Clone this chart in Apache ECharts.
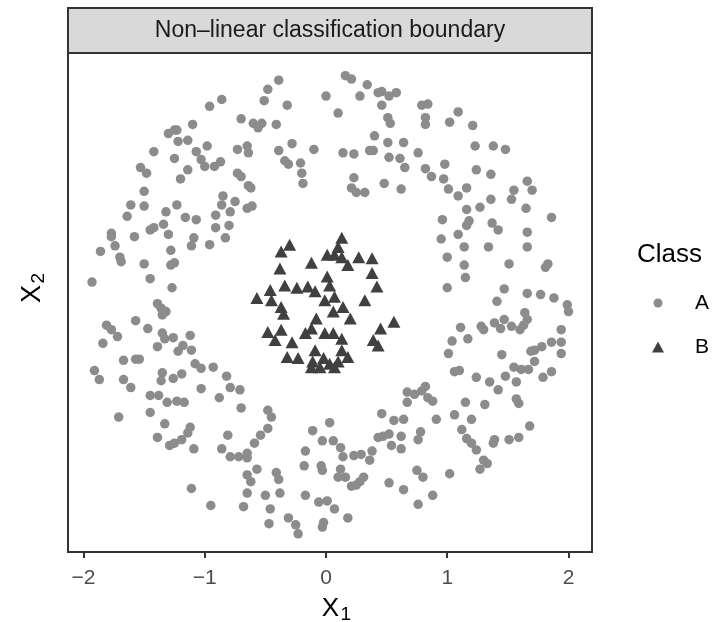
<!DOCTYPE html>
<html>
<head>
<meta charset="utf-8">
<script src="https://cdn.jsdelivr.net/npm/echarts@6/dist/echarts.min.js"></script>
<style>
  html, body { margin: 0; padding: 0; background: #ffffff; }
  #chart { width: 713px; height: 622px; }
</style>
</head>
<body>
<div id="chart"></div>
<script>
// ---- chart data ----
const panelTitle = 'Non\u2013linear classification boundary';
const legendTitle = 'Class';
const classNames = ['A', 'B'];
const xTicks = [-2, -1, 0, 1, 2];

// outer ring: class A points [x1, x2]
const classA = [
  [-0.86,1.79],[-0.96,1.73],[-0.70,1.62],[-1.10,1.57],[-1.30,1.49],[-1.25,1.52],[-1.23,1.52],[-1.22,1.42],
  [-1.14,1.43],[-1.42,1.33],[-1.07,1.33],[-0.98,1.38],[-1.25,1.27],[-1.03,1.26],[-1.00,1.20],[-0.92,1.20],
  [-0.87,1.24],[-0.73,1.35],[-1.53,1.19],[-1.48,1.14],[-1.14,1.17],[-1.20,1.09],[-0.73,1.14],[-1.50,0.98],
  [-1.61,0.86],[-1.50,0.85],[-1.64,0.76],[-1.32,0.80],[-1.23,0.86],[-1.16,0.75],[-1.07,0.73],[-0.85,0.94],
  [-0.86,0.86],[-0.75,0.89],[-0.91,0.77],[-0.79,0.80],
  [-0.39,1.96],[-0.48,1.88],[-0.51,1.78],[-0.32,1.74],[-0.60,1.58],[-0.56,1.54],[-0.53,1.58],[-0.41,1.57],
  [0.00,1.82],[0.16,2.00],[0.21,1.97],[0.34,1.92],[0.28,1.82],[0.43,1.85],[0.46,1.86],[0.52,1.82],
  [0.58,1.85],[0.46,1.74],[0.10,1.67],[0.51,1.63],[0.53,1.58],[0.40,1.47],[0.51,1.41],[0.64,1.41],
  [-0.65,1.38],[-0.64,1.32],[-0.39,1.34],[-0.28,1.40],[-0.10,1.35],[-0.34,1.25],[-0.31,1.22],[-0.21,1.23],
  [-0.20,1.14],[-0.19,1.05],[0.14,1.32],[0.23,1.31],[0.36,1.34],[0.39,1.34],[0.52,1.28],[0.61,1.27],
  [0.65,1.19],[-0.70,1.11],[-0.64,1.03],[-0.62,1.01],[0.23,1.10],[0.21,1.01],[0.25,0.97],[0.32,0.97],
  [0.48,1.05],[0.62,1.00],[-0.65,0.83],[-0.61,0.85],
  [0.79,1.74],[0.84,1.75],[0.82,1.63],[0.82,1.57],[1.09,1.68],[1.02,1.59],[1.21,1.56],[0.76,1.32],
  [1.23,1.38],[1.38,1.38],[1.48,1.35],[0.82,1.18],[0.87,1.11],[0.98,1.22],[0.97,1.09],[1.01,1.00],
  [1.09,0.94],[1.16,1.01],[1.24,1.17],[1.36,1.13],[1.16,0.82],[1.27,0.84],[1.36,0.91],[1.53,0.91],
  [1.55,0.99],[1.66,1.07],[1.70,0.99],[1.65,0.83],[1.86,0.75],[0.96,0.73],[1.18,0.72],[1.37,0.70],
  [-1.77,0.61],[-1.77,0.58],[-1.74,0.50],[-1.86,0.45],[-1.70,0.40],[-1.69,0.36],[-1.58,0.58],[-1.45,0.64],
  [-1.42,0.66],[-1.34,0.69],[-1.30,0.60],[-1.28,0.46],[-1.09,0.57],[-1.11,0.50],[-0.91,0.66],[-0.80,0.68],
  [-0.83,0.57],[-0.96,0.51],[-1.50,0.34],[-1.28,0.33],[-1.25,0.35],[-1.93,0.18],[-1.45,0.21],[-1.27,0.13],
  [-1.39,-0.01],[-1.36,-0.05],[-1.32,-0.08],[-1.35,-0.11],[-1.57,-0.16],[-1.81,-0.20],[-1.77,-0.24],[-1.72,-0.30],
  [-1.47,-0.23],[-1.84,-0.36],[-1.35,-0.27],[-1.33,-0.32],[-1.26,-0.31],[-1.39,-0.39],[-1.12,-0.29],[-1.18,-0.38],
  [-1.22,-0.43],[-1.11,-0.42],[-1.67,-0.51],[-1.57,-0.50],[-1.54,-0.50],[-1.08,-0.54],[-1.03,-0.58],[-0.93,-0.57],
  [-1.91,-0.60],[-1.87,-0.68],[-1.67,-0.68],[-1.35,-0.62],[-1.36,-0.69],[-1.26,-0.67],[-1.19,-0.63],[-0.82,-0.65],
  [-1.61,-0.75],[-1.45,-0.82],[-1.38,-0.82],[-1.31,-0.88],[-1.23,-0.87],[-1.17,-0.88],[-1.03,-0.76],[-0.88,-0.84],
  [-0.79,-0.75],[-0.71,-0.77],[-0.70,-0.93],[-1.71,-1.01],[-1.45,-0.97],[-1.33,-1.07],[-1.39,-1.19],[-1.29,-1.26],
  [-1.25,-1.24],[-1.19,-1.21],[-1.14,-1.15],[-1.12,-1.10],[-1.09,-1.29],[-0.81,-1.17],[-0.86,-1.29],[-0.79,-1.36],
  [-0.72,-1.36],[-1.11,-1.64],[-0.95,-1.79],
  [-0.48,-0.95],[-0.45,-1.01],[-0.48,-1.11],[-0.54,-1.17],[-0.59,-1.24],[-0.65,-1.33],[-0.65,-1.37],[-0.65,-1.52],
  [-0.57,-1.47],[-0.62,-1.58],[-0.65,-1.68],[-0.68,-1.80],[-0.41,-1.50],[-0.39,-1.56],[-0.50,-1.70],[-0.38,-1.68],
  [-0.46,-1.82],[-0.47,-1.95],[-0.31,-1.90],[-0.25,-1.96],[-0.23,-2.04],[-0.11,-1.13],[0.03,-1.06],[-0.03,-1.22],
  [0.06,-1.22],[0.12,-1.28],[0.14,-1.36],[-0.17,-1.31],[-0.18,-1.44],[-0.04,-1.44],[-0.03,-1.48],[0.12,-1.47],
  [0.10,-1.54],[0.16,-1.54],[0.23,-1.35],[0.29,-1.34],[0.38,-1.31],[0.36,-1.39],[0.31,-1.54],[0.28,-1.58],
  [0.21,-1.62],[0.25,-1.61],[-0.17,-1.70],[-0.06,-1.76],[0.01,-1.75],[0.07,-1.82],[0.18,-1.90],[-0.02,-1.94],
  [-0.03,-1.98],[0.46,-0.98],[0.43,-1.19],[0.47,-1.18],[0.52,-1.16],[0.54,-1.26],[0.56,-1.04],[0.64,-1.03],
  [0.62,-1.18],[0.62,-1.29],[0.67,-0.79],[0.67,-0.88],[0.52,-1.59],[0.64,-1.65],
  [0.73,-0.81],[0.79,-0.78],[0.82,-0.74],[0.84,-0.84],[0.88,-0.87],[1.42,-0.77],[1.15,-0.88],[1.31,-0.90],
  [1.57,-0.85],[1.59,-0.89],[0.91,-1.03],[1.06,-0.99],[1.20,-1.03],[1.68,-1.09],[1.12,-1.12],[1.16,-1.20],
  [1.20,-1.24],[1.24,-1.30],[1.30,-1.39],[1.33,-1.42],[1.27,-1.47],[0.78,-1.14],[0.76,-1.21],[1.38,-1.24],
  [1.39,-1.21],[1.51,-1.21],[1.59,-1.19],[0.75,-1.48],[0.80,-1.54],[1.02,-1.51],[0.88,-1.70],[0.76,-1.78],
  [1.16,0.68],[1.42,0.64],[0.95,0.56],[1.09,0.60],[1.14,0.49],[1.34,0.49],[1.66,0.62],[1.66,0.49],
  [1.00,0.40],[1.14,0.33],[1.15,0.22],[1.51,0.34],[1.81,0.31],[1.83,0.34],[1.00,0.13],[1.47,0.12],
  [1.41,0.01],[1.66,0.08],[1.77,0.07],[1.88,0.04],[1.99,-0.02],[2.00,-0.08],[1.64,-0.09],[1.66,-0.15],
  [1.60,-0.24],[1.63,-0.20],[1.53,-0.21],[1.47,-0.15],[1.44,-0.23],[1.39,-0.18],[1.30,-0.24],[1.28,-0.21],
  [1.11,-0.22],[1.17,-0.32],[1.04,-0.34],[1.01,-0.45],[1.45,-0.46],[1.94,-0.24],[1.94,-0.35],[1.86,-0.35],
  [1.94,-0.45],[1.78,-0.39],[1.72,-0.42],[1.69,-0.43],[1.72,-0.52],[1.55,-0.57],[1.61,-0.59],[1.67,-0.59],
  [1.86,-0.61],[1.06,-0.61],[1.10,-0.60],[1.24,-0.66],[1.35,-0.70],[1.48,-0.65],[1.57,-0.70],[1.79,-0.66]
];

// inner cluster: class B points [x1, x2]
const classB = [
  [-0.30,0.51],[-0.37,0.45],[-0.38,0.30],[-0.12,0.35],[0.13,0.57],[0.10,0.49],[0.01,0.42],[0.07,0.42],
  [0.13,0.40],[0.18,0.33],[0.27,0.40],[0.38,0.39],[0.38,0.26],[0.42,0.14],[-0.34,0.15],[-0.24,0.13],
  [-0.15,0.14],[-0.09,0.10],[0.01,0.23],[0.03,0.15],[-0.57,0.04],[-0.46,0.11],[-0.45,0.02],[-0.37,-0.04],
  [-0.35,-0.10],[-0.01,0.02],[0.07,0.05],[0.14,-0.04],[0.06,-0.08],[0.20,-0.14],[0.32,0.02],[-0.08,-0.14],
  [-0.12,-0.23],[-0.17,-0.27],[-0.48,-0.26],[-0.37,-0.24],[-0.42,-0.33],[-0.28,-0.35],[-0.01,-0.27],[0.06,-0.27],
  [0.13,-0.32],[0.56,-0.17],[0.45,-0.23],[0.39,-0.33],[0.43,-0.38],[-0.32,-0.48],[-0.23,-0.49],[-0.09,-0.42],
  [-0.11,-0.52],[-0.02,-0.49],[0.03,-0.54],[0.10,-0.52],[0.13,-0.42],[0.18,-0.48],[-0.05,-0.57],[-0.12,-0.57],
  [0.07,-0.57]
];

// ---- styling ----
const FONT = '"Liberation Sans", Arial, Helvetica, sans-serif';
const colorA = '#8c8c8c';
const colorB = '#404040';
const frame = '#333333';
const P = { left: 68, top: 53, right: 592, bottom: 552 };

const chart = echarts.init(document.getElementById('chart'), null, { renderer: 'canvas' });

chart.setOption({
  animation: false,
  backgroundColor: '#ffffff',
  textStyle: { fontFamily: FONT },
  grid: {
    left: P.left, top: P.top,
    width: P.right - P.left, height: P.bottom - P.top,
    show: true, borderColor: frame, borderWidth: 2, backgroundColor: '#ffffff'
  },
  xAxis: {
    type: 'value', min: -2.128, max: 2.194,
    axisLine: { show: false, onZero: false },
    splitLine: { show: false },
    axisTick: { show: true, length: 6, lineStyle: { color: frame, width: 2 }, customValues: xTicks },
    axisLabel: {
      customValues: xTicks, margin: 16, fontSize: 21, color: '#4d4d4d', fontFamily: FONT,
      formatter: v => String(v).replace('-', '\u2212')
    }
  },
  yAxis: {
    type: 'value', min: -2.2, max: 2.2,
    axisLine: { show: false, onZero: false }, axisTick: { show: false }, axisLabel: { show: false },
    splitLine: { show: false }
  },
  series: [
    {
      name: classNames[0], type: 'scatter', data: classA,
      symbol: 'circle', symbolSize: 9.5,
      itemStyle: { color: colorA, opacity: 1 },
      emphasis: { disabled: true }, z: 2
    },
    {
      name: classNames[1], type: 'scatter', data: classB,
      symbol: 'triangle', symbolSize: [13, 12],
      itemStyle: { color: colorB, opacity: 1 },
      emphasis: { disabled: true }, z: 3
    }
  ],
  graphic: [
    // facet strip above the panel
    {
      type: 'rect', z: 10,
      shape: { x: P.left, y: 8, width: P.right - P.left, height: P.top - 8 },
      style: { fill: '#d9d9d9', stroke: frame, lineWidth: 2 }
    },
    {
      type: 'text', z: 11, x: (P.left + P.right) / 2, y: 31,
      style: { text: panelTitle, fontSize: 23, fontFamily: FONT, fill: '#1a1a1a', align: 'center', verticalAlign: 'middle' }
    },
    // x-axis title X with subscript 1
    {
      type: 'group', x: 339, y: 609,
      children: [
        { type: 'text', x: 0, y: 0, style: { text: 'X', fontSize: 26, fontFamily: FONT, fill: '#000', align: 'right', verticalAlign: 'middle' } },
        { type: 'text', x: 1.5, y: 6, style: { text: '1', fontSize: 19, fontFamily: FONT, fill: '#000', align: 'left', verticalAlign: 'middle' } }
      ]
    },
    // y-axis title X with subscript 2, reading upwards
    {
      type: 'group', x: 33, y: 285, rotation: Math.PI / 2,
      children: [
        { type: 'text', x: 0, y: 0, style: { text: 'X', fontSize: 27, fontFamily: FONT, fill: '#000', align: 'right', verticalAlign: 'middle' } },
        { type: 'text', x: 1.5, y: 6, style: { text: '2', fontSize: 19, fontFamily: FONT, fill: '#000', align: 'left', verticalAlign: 'middle' } }
      ]
    },
    // legend
    {
      type: 'text', x: 637, y: 255,
      style: { text: legendTitle, fontSize: 26, fontFamily: FONT, fill: '#000', align: 'left', verticalAlign: 'middle' }
    },
    { type: 'circle', shape: { cx: 658, cy: 303, r: 4.5 }, style: { fill: colorA } },
    {
      type: 'text', x: 695, y: 303,
      style: { text: classNames[0], fontSize: 21, fontFamily: FONT, fill: '#000', align: 'left', verticalAlign: 'middle' }
    },
    { type: 'polygon', shape: { points: [[652, 352.5], [664, 352.5], [658, 341.5]] }, style: { fill: colorB } },
    {
      type: 'text', x: 695, y: 347,
      style: { text: classNames[1], fontSize: 21, fontFamily: FONT, fill: '#000', align: 'left', verticalAlign: 'middle' }
    }
  ]
});
</script>
</body>
</html>
